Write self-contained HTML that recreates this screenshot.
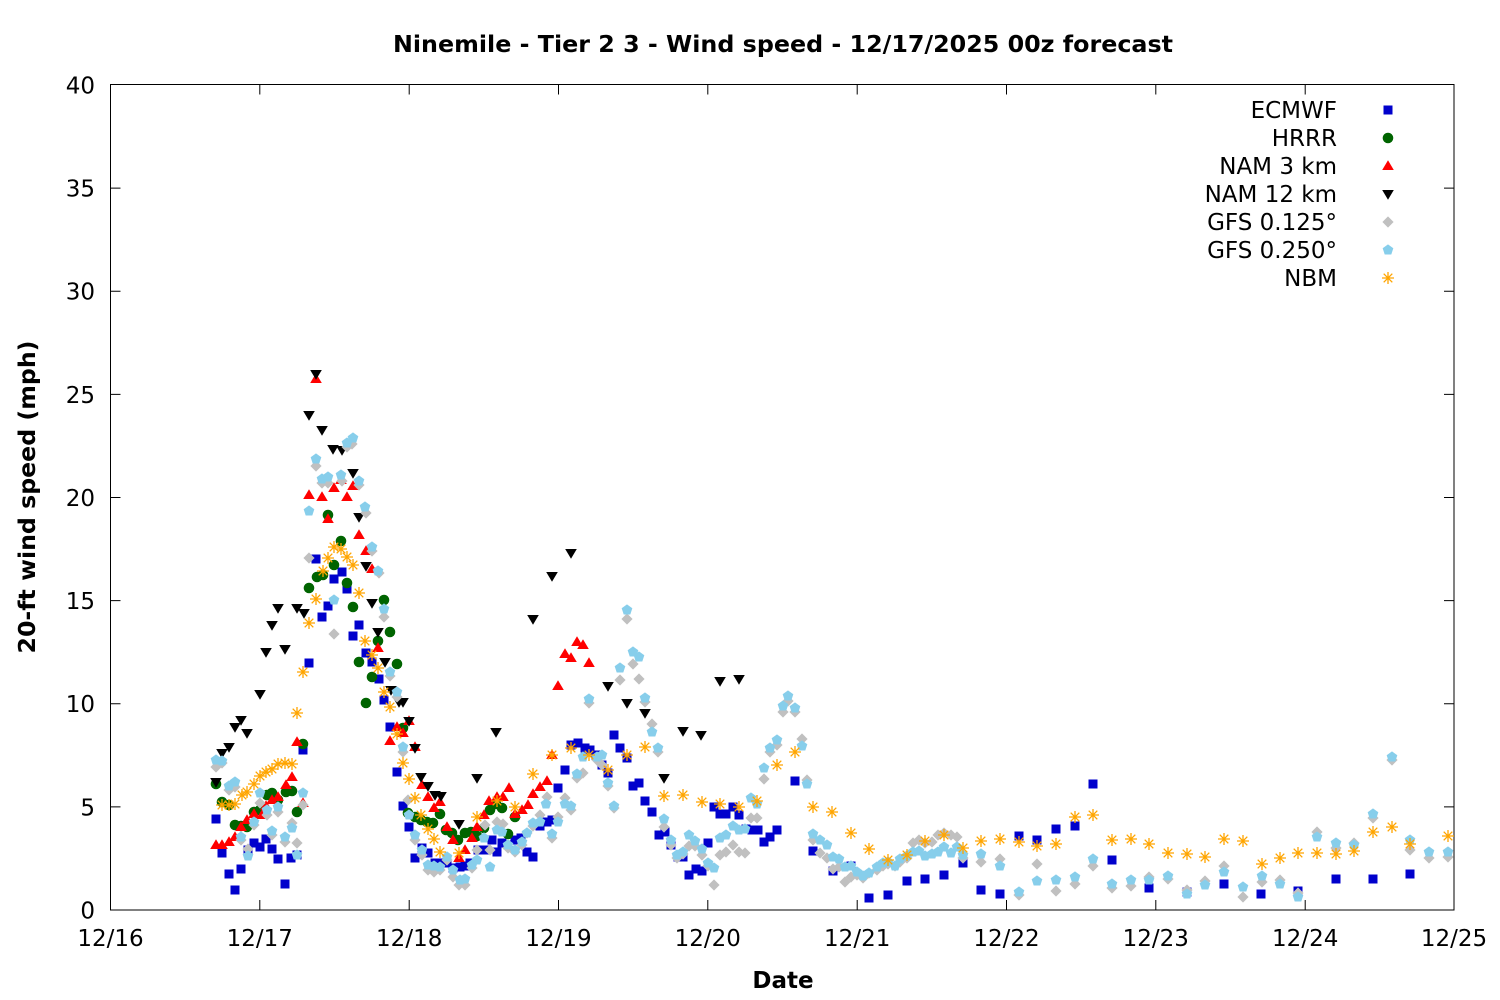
<!DOCTYPE html>
<html><head><meta charset="utf-8"><style>
html,body{margin:0;padding:0;background:#fff;}
svg{display:block;}
text{font-family:"DejaVu Sans","Liberation Sans",sans-serif;fill:#000;}
</style></head><body>
<svg width="1500" height="1000" viewBox="0 0 1500 1000" xmlns="http://www.w3.org/2000/svg" xmlns:xlink="http://www.w3.org/1999/xlink">
<defs>
<rect id="a" x="-4.5" y="-4.5" width="9" height="9" fill="#0000cc"/>
<circle id="b" r="5.3" fill="#006400"/>
<polygon id="c" points="0,-5.8 5.8,4 -5.8,4" fill="#ff0000"/>
<polygon id="d" points="-5.8,-4 5.8,-4 0,5.8" fill="#000000"/>
<polygon id="e" points="0,-5.6 5.6,0 0,5.6 -5.6,0" fill="#c0c0c0"/>
<polygon id="f" points="0,-5.6 5.33,-1.73 3.29,4.53 -3.29,4.53 -5.33,-1.73" fill="#87ceeb"/>
<g id="g" stroke="#ffa500" stroke-width="1.3" fill="none"><path d="M-6,0H6M0,-6V6M-4.3,-4.3L4.3,4.3M-4.3,4.3L4.3,-4.3"/></g>
</defs>
<rect x="0" y="0" width="1500" height="1000" fill="#fff"/>
<text x="783" y="52" text-anchor="middle" font-size="23" font-weight="bold" textLength="780" lengthAdjust="spacingAndGlyphs">Ninemile - Tier 2 3 - Wind speed - 12/17/2025 00z forecast</text>
<g stroke="#000" stroke-width="1" fill="none">
<rect x="110.5" y="84.5" width="1343.5" height="825.5"/>
<path d="M110.5,806.9h10M110.5,703.75h10M110.5,600.6h10M110.5,497.5h10M110.5,394.4h10M110.5,291.25h10M110.5,188.1h10
M1454,806.9h-10M1454,703.75h-10M1454,600.6h-10M1454,497.5h-10M1454,394.4h-10M1454,291.25h-10M1454,188.1h-10
M259.8,910v-10M409.2,910v-10M558.5,910v-10M707.8,910v-10M857.2,910v-10M1006.5,910v-10M1155.8,910v-10M1305.2,910v-10
M259.8,84.5v10M409.2,84.5v10M558.5,84.5v10M707.8,84.5v10M857.2,84.5v10M1006.5,84.5v10M1155.8,84.5v10M1305.2,84.5v10"/>
</g>
<g font-size="23" text-anchor="end">
<text x="95" y="918.5">0</text>
<text x="95" y="815.4">5</text>
<text x="95" y="712.2">10</text>
<text x="95" y="609.1">15</text>
<text x="95" y="506">20</text>
<text x="95" y="402.9">25</text>
<text x="95" y="299.7">30</text>
<text x="95" y="196.6">35</text>
<text x="95" y="93.5">40</text>
</g>
<g font-size="23" text-anchor="middle">
<text x="110.5" y="946">12/16</text>
<text x="259.8" y="946">12/17</text>
<text x="409.2" y="946">12/18</text>
<text x="558.5" y="946">12/19</text>
<text x="707.8" y="946">12/20</text>
<text x="857.2" y="946">12/21</text>
<text x="1006.5" y="946">12/22</text>
<text x="1155.8" y="946">12/23</text>
<text x="1305.2" y="946">12/24</text>
<text x="1454" y="946">12/25</text>
</g>
<text x="783" y="988" text-anchor="middle" font-size="23" font-weight="bold">Date</text>
<text transform="translate(35,497) rotate(-90)" text-anchor="middle" font-size="23" font-weight="bold" textLength="313" lengthAdjust="spacingAndGlyphs">20-ft wind speed (mph)</text>

<!-- ECMWF -->
<g>
<use href="#a" x="216" y="819"/><use href="#a" x="222" y="853"/><use href="#a" x="229" y="874"/><use href="#a" x="235" y="890"/><use href="#a" x="241" y="869"/><use href="#a" x="248" y="850"/><use href="#a" x="254" y="843"/><use href="#a" x="260" y="847"/><use href="#a" x="266" y="839"/><use href="#a" x="272" y="849"/><use href="#a" x="278" y="859"/><use href="#a" x="285" y="884"/><use href="#a" x="291" y="858"/><use href="#a" x="297" y="855"/><use href="#a" x="303" y="750"/><use href="#a" x="309" y="663"/><use href="#a" x="316" y="559"/><use href="#a" x="322" y="617"/><use href="#a" x="328" y="606"/><use href="#a" x="334" y="579"/><use href="#a" x="342" y="572"/><use href="#a" x="347" y="589"/><use href="#a" x="353" y="636"/><use href="#a" x="359" y="625"/><use href="#a" x="366" y="653"/><use href="#a" x="372" y="662"/><use href="#a" x="379" y="679"/><use href="#a" x="384" y="700"/><use href="#a" x="390" y="727"/><use href="#a" x="397" y="772"/><use href="#a" x="403" y="806"/><use href="#a" x="409" y="827"/><use href="#a" x="415" y="858"/><use href="#a" x="422" y="848"/><use href="#a" x="428" y="853"/><use href="#a" x="435" y="863"/><use href="#a" x="441" y="863"/><use href="#a" x="447" y="863"/><use href="#a" x="453" y="868"/><use href="#a" x="460" y="867"/><use href="#a" x="465" y="866"/><use href="#a" x="470" y="863"/><use href="#a" x="478" y="850"/><use href="#a" x="485" y="850"/><use href="#a" x="492" y="840"/><use href="#a" x="497" y="852"/><use href="#a" x="502" y="843"/><use href="#a" x="508" y="845"/><use href="#a" x="515" y="840"/><use href="#a" x="521" y="838"/><use href="#a" x="527" y="852"/><use href="#a" x="533" y="857"/><use href="#a" x="540" y="826"/><use href="#a" x="547" y="822"/><use href="#a" x="552" y="820"/><use href="#a" x="558" y="788"/><use href="#a" x="565" y="770"/><use href="#a" x="571" y="745"/><use href="#a" x="578" y="743"/><use href="#a" x="585" y="748"/><use href="#a" x="590" y="750"/><use href="#a" x="596" y="755"/><use href="#a" x="602" y="765"/><use href="#a" x="608" y="773"/><use href="#a" x="614" y="735"/><use href="#a" x="620" y="748"/><use href="#a" x="627" y="758"/><use href="#a" x="633" y="786"/><use href="#a" x="639" y="783"/><use href="#a" x="645" y="801"/><use href="#a" x="652" y="812"/><use href="#a" x="659" y="835"/><use href="#a" x="665" y="832"/><use href="#a" x="671" y="845"/><use href="#a" x="678" y="857"/><use href="#a" x="683" y="857"/><use href="#a" x="689" y="875"/><use href="#a" x="696" y="869"/><use href="#a" x="702" y="871"/><use href="#a" x="708" y="843"/><use href="#a" x="714" y="807"/><use href="#a" x="720" y="814"/><use href="#a" x="726" y="814"/><use href="#a" x="733" y="807"/><use href="#a" x="739" y="815"/><use href="#a" x="746" y="829"/><use href="#a" x="752" y="830"/><use href="#a" x="758" y="830"/><use href="#a" x="764" y="842"/><use href="#a" x="770" y="837"/><use href="#a" x="777" y="830"/><use href="#a" x="795" y="781"/><use href="#a" x="813" y="851"/><use href="#a" x="833" y="871"/><use href="#a" x="851" y="866"/><use href="#a" x="869" y="898"/><use href="#a" x="888" y="895"/><use href="#a" x="907" y="881"/><use href="#a" x="925" y="879"/><use href="#a" x="944" y="875"/><use href="#a" x="963" y="863"/><use href="#a" x="981" y="890"/><use href="#a" x="1000" y="894"/><use href="#a" x="1019" y="836"/><use href="#a" x="1037" y="840"/><use href="#a" x="1056" y="829"/><use href="#a" x="1075" y="826"/><use href="#a" x="1093" y="784"/><use href="#a" x="1112" y="860"/><use href="#a" x="1149" y="888"/><use href="#a" x="1187" y="892"/><use href="#a" x="1224" y="884"/><use href="#a" x="1261" y="894"/><use href="#a" x="1298" y="891"/><use href="#a" x="1336" y="879"/><use href="#a" x="1373" y="879"/><use href="#a" x="1410" y="874"/>
</g>
<!-- HRRR -->
<g>
<use href="#b" x="216" y="784"/><use href="#b" x="222" y="802"/><use href="#b" x="229" y="805"/><use href="#b" x="235" y="825"/><use href="#b" x="241" y="826"/><use href="#b" x="247" y="827"/><use href="#b" x="254" y="812"/><use href="#b" x="260" y="810"/><use href="#b" x="267" y="795"/><use href="#b" x="272" y="793"/><use href="#b" x="278" y="800"/><use href="#b" x="286" y="792"/><use href="#b" x="292" y="791"/><use href="#b" x="297" y="812"/><use href="#b" x="303" y="744"/><use href="#b" x="309" y="588"/><use href="#b" x="317" y="577"/><use href="#b" x="323" y="575"/><use href="#b" x="328" y="515"/><use href="#b" x="334" y="565"/><use href="#b" x="341" y="541"/><use href="#b" x="347" y="583"/><use href="#b" x="353" y="607"/><use href="#b" x="359" y="662"/><use href="#b" x="366" y="703"/><use href="#b" x="372" y="677"/><use href="#b" x="378" y="641"/><use href="#b" x="384" y="600"/><use href="#b" x="390" y="632"/><use href="#b" x="397" y="664"/><use href="#b" x="403" y="728"/><use href="#b" x="408" y="813"/><use href="#b" x="415" y="817"/><use href="#b" x="421" y="820"/><use href="#b" x="427" y="822"/><use href="#b" x="433" y="823"/><use href="#b" x="440" y="814"/><use href="#b" x="446" y="830"/><use href="#b" x="452" y="833"/><use href="#b" x="458" y="840"/><use href="#b" x="465" y="833"/><use href="#b" x="471" y="832"/><use href="#b" x="477" y="836"/><use href="#b" x="484" y="828"/><use href="#b" x="490" y="810"/><use href="#b" x="496" y="804"/><use href="#b" x="502" y="808"/><use href="#b" x="508" y="834"/><use href="#b" x="515" y="817"/>
</g>
<!-- NAM 3 km -->
<g>
<use href="#c" x="216" y="845"/><use href="#c" x="222" y="845"/><use href="#c" x="229" y="842"/><use href="#c" x="235" y="837"/><use href="#c" x="241" y="827"/><use href="#c" x="247" y="820"/><use href="#c" x="254" y="814"/><use href="#c" x="262" y="815"/><use href="#c" x="266" y="806"/><use href="#c" x="272" y="800"/><use href="#c" x="278" y="797"/><use href="#c" x="286" y="785"/><use href="#c" x="292" y="777"/><use href="#c" x="297" y="742"/><use href="#c" x="303" y="803"/><use href="#c" x="309" y="495"/><use href="#c" x="316" y="379"/><use href="#c" x="322" y="497"/><use href="#c" x="328" y="519"/><use href="#c" x="334" y="488"/><use href="#c" x="341" y="480"/><use href="#c" x="347" y="497"/><use href="#c" x="353" y="486"/><use href="#c" x="359" y="535"/><use href="#c" x="366" y="551"/><use href="#c" x="372" y="569"/><use href="#c" x="378" y="648"/><use href="#c" x="390" y="741"/><use href="#c" x="397" y="727"/><use href="#c" x="403" y="733"/><use href="#c" x="409" y="721"/><use href="#c" x="415" y="747"/><use href="#c" x="422" y="785"/><use href="#c" x="428" y="797"/><use href="#c" x="434" y="808"/><use href="#c" x="440" y="802"/><use href="#c" x="447" y="827"/><use href="#c" x="453" y="840"/><use href="#c" x="459" y="858"/><use href="#c" x="465" y="850"/><use href="#c" x="472" y="838"/><use href="#c" x="477" y="827"/><use href="#c" x="484" y="815"/><use href="#c" x="489" y="801"/><use href="#c" x="497" y="797"/><use href="#c" x="503" y="797"/><use href="#c" x="509" y="788"/><use href="#c" x="515" y="814"/><use href="#c" x="522" y="810"/><use href="#c" x="528" y="805"/><use href="#c" x="533" y="794"/><use href="#c" x="540" y="787"/><use href="#c" x="547" y="781"/><use href="#c" x="552" y="755"/><use href="#c" x="558" y="686"/><use href="#c" x="565" y="654"/><use href="#c" x="571" y="658"/><use href="#c" x="577" y="642"/><use href="#c" x="583" y="645"/><use href="#c" x="589" y="663"/>
</g>
<!-- NAM 12 km -->
<g>
<use href="#d" x="216" y="782"/><use href="#d" x="222" y="753"/><use href="#d" x="229" y="747"/><use href="#d" x="235" y="727"/><use href="#d" x="241" y="720"/><use href="#d" x="247" y="733"/><use href="#d" x="260" y="694"/><use href="#d" x="266" y="652"/><use href="#d" x="272" y="625"/><use href="#d" x="278" y="608"/><use href="#d" x="285" y="649"/><use href="#d" x="297" y="608"/><use href="#d" x="304" y="613"/><use href="#d" x="309" y="415"/><use href="#d" x="316" y="374"/><use href="#d" x="322" y="430"/><use href="#d" x="333" y="449"/><use href="#d" x="342" y="450"/><use href="#d" x="353" y="473"/><use href="#d" x="359" y="517"/><use href="#d" x="366" y="566"/><use href="#d" x="372" y="603"/><use href="#d" x="378" y="632"/><use href="#d" x="385" y="662"/><use href="#d" x="391" y="690"/><use href="#d" x="399" y="702"/><use href="#d" x="403" y="702"/><use href="#d" x="409" y="721"/><use href="#d" x="415" y="748"/><use href="#d" x="421" y="777"/><use href="#d" x="428" y="786"/><use href="#d" x="435" y="795"/><use href="#d" x="441" y="796"/><use href="#d" x="459" y="824"/><use href="#d" x="477" y="778"/><use href="#d" x="496" y="732"/><use href="#d" x="533" y="619"/><use href="#d" x="552" y="576"/><use href="#d" x="571" y="553"/><use href="#d" x="608" y="686"/><use href="#d" x="627" y="703"/><use href="#d" x="645" y="713"/><use href="#d" x="664" y="778"/><use href="#d" x="683" y="731"/><use href="#d" x="701" y="735"/><use href="#d" x="720" y="681"/><use href="#d" x="739" y="679"/>
</g>
<!-- GFS 0.125 -->
<g>
<use href="#e" x="216" y="767"/><use href="#e" x="222" y="763"/><use href="#e" x="229" y="790"/><use href="#e" x="235" y="787"/><use href="#e" x="241" y="840"/><use href="#e" x="248" y="849"/><use href="#e" x="254" y="825"/><use href="#e" x="260" y="803"/><use href="#e" x="267" y="815"/><use href="#e" x="272" y="835"/><use href="#e" x="278" y="812"/><use href="#e" x="285" y="842"/><use href="#e" x="292" y="823"/><use href="#e" x="297" y="843"/><use href="#e" x="303" y="805"/><use href="#e" x="309" y="558"/><use href="#e" x="316" y="466"/><use href="#e" x="322" y="483"/><use href="#e" x="328" y="483"/><use href="#e" x="334" y="634"/><use href="#e" x="342" y="481"/><use href="#e" x="347" y="447"/><use href="#e" x="352" y="444"/><use href="#e" x="359" y="485"/><use href="#e" x="366" y="513"/><use href="#e" x="372" y="551"/><use href="#e" x="379" y="573"/><use href="#e" x="384" y="617"/><use href="#e" x="390" y="676"/><use href="#e" x="397" y="697"/><use href="#e" x="403" y="752"/><use href="#e" x="408" y="800"/><use href="#e" x="415" y="840"/><use href="#e" x="422" y="855"/><use href="#e" x="428" y="870"/><use href="#e" x="434" y="872"/><use href="#e" x="440" y="870"/><use href="#e" x="447" y="860"/><use href="#e" x="453" y="877"/><use href="#e" x="459" y="885"/><use href="#e" x="465" y="885"/><use href="#e" x="472" y="868"/><use href="#e" x="477" y="850"/><use href="#e" x="485" y="825"/><use href="#e" x="490" y="850"/><use href="#e" x="497" y="822"/><use href="#e" x="503" y="824"/><use href="#e" x="508" y="848"/><use href="#e" x="515" y="852"/><use href="#e" x="522" y="845"/><use href="#e" x="527" y="833"/><use href="#e" x="533" y="826"/><use href="#e" x="540" y="815"/><use href="#e" x="547" y="797"/><use href="#e" x="552" y="838"/><use href="#e" x="558" y="817"/><use href="#e" x="565" y="798"/><use href="#e" x="571" y="810"/><use href="#e" x="577" y="778"/><use href="#e" x="583" y="773"/><use href="#e" x="589" y="703"/><use href="#e" x="597" y="760"/><use href="#e" x="602" y="765"/><use href="#e" x="608" y="786"/><use href="#e" x="614" y="808"/><use href="#e" x="620" y="680"/><use href="#e" x="627" y="619"/><use href="#e" x="633" y="664"/><use href="#e" x="639" y="679"/><use href="#e" x="645" y="702"/><use href="#e" x="652" y="724"/><use href="#e" x="658" y="752"/><use href="#e" x="664" y="827"/><use href="#e" x="671" y="845"/><use href="#e" x="677" y="858"/><use href="#e" x="683" y="854"/><use href="#e" x="689" y="846"/><use href="#e" x="695" y="846"/><use href="#e" x="702" y="855"/><use href="#e" x="708" y="866"/><use href="#e" x="714" y="885"/><use href="#e" x="720" y="855"/><use href="#e" x="726" y="852"/><use href="#e" x="733" y="845"/><use href="#e" x="739" y="852"/><use href="#e" x="745" y="853"/><use href="#e" x="751" y="818"/><use href="#e" x="757" y="818"/><use href="#e" x="764" y="779"/><use href="#e" x="770" y="752"/><use href="#e" x="777" y="745"/><use href="#e" x="783" y="712"/><use href="#e" x="788" y="701"/><use href="#e" x="795" y="712"/><use href="#e" x="802" y="739"/><use href="#e" x="807" y="780"/><use href="#e" x="813" y="840"/><use href="#e" x="820" y="853"/><use href="#e" x="827" y="858"/><use href="#e" x="833" y="869"/><use href="#e" x="839" y="867"/><use href="#e" x="845" y="882"/><use href="#e" x="851" y="877"/><use href="#e" x="857" y="875"/><use href="#e" x="863" y="878"/><use href="#e" x="869" y="873"/><use href="#e" x="877" y="870"/><use href="#e" x="883" y="866"/><use href="#e" x="888" y="864"/><use href="#e" x="895" y="866"/><use href="#e" x="900" y="862"/><use href="#e" x="907" y="858"/><use href="#e" x="913" y="843"/><use href="#e" x="919" y="840"/><use href="#e" x="925" y="843"/><use href="#e" x="932" y="842"/><use href="#e" x="938" y="835"/><use href="#e" x="944" y="833"/><use href="#e" x="951" y="835"/><use href="#e" x="957" y="837"/><use href="#e" x="963" y="858"/><use href="#e" x="981" y="862"/><use href="#e" x="1000" y="859"/><use href="#e" x="1019" y="895"/><use href="#e" x="1037" y="864"/><use href="#e" x="1056" y="891"/><use href="#e" x="1075" y="884"/><use href="#e" x="1093" y="866"/><use href="#e" x="1112" y="888"/><use href="#e" x="1131" y="886"/><use href="#e" x="1149" y="877"/><use href="#e" x="1168" y="879"/><use href="#e" x="1187" y="890"/><use href="#e" x="1205" y="881"/><use href="#e" x="1224" y="866"/><use href="#e" x="1243" y="897"/><use href="#e" x="1262" y="882"/><use href="#e" x="1280" y="880"/><use href="#e" x="1298" y="893"/><use href="#e" x="1317" y="832"/><use href="#e" x="1336" y="848"/><use href="#e" x="1354" y="843"/><use href="#e" x="1373" y="818"/><use href="#e" x="1392" y="760"/><use href="#e" x="1410" y="850"/><use href="#e" x="1429" y="858"/><use href="#e" x="1448" y="857"/>
</g>
<!-- GFS 0.250 -->
<g>
<use href="#f" x="216" y="760"/><use href="#f" x="222" y="761"/><use href="#f" x="229" y="786"/><use href="#f" x="235" y="782"/><use href="#f" x="241" y="837"/><use href="#f" x="248" y="856"/><use href="#f" x="254" y="822"/><use href="#f" x="260" y="793"/><use href="#f" x="267" y="810"/><use href="#f" x="272" y="831"/><use href="#f" x="278" y="807"/><use href="#f" x="285" y="837"/><use href="#f" x="292" y="828"/><use href="#f" x="297" y="855"/><use href="#f" x="303" y="793"/><use href="#f" x="309" y="511"/><use href="#f" x="316" y="459"/><use href="#f" x="322" y="479"/><use href="#f" x="328" y="477"/><use href="#f" x="334" y="600"/><use href="#f" x="341" y="475"/><use href="#f" x="347" y="443"/><use href="#f" x="353" y="438"/><use href="#f" x="359" y="481"/><use href="#f" x="365" y="507"/><use href="#f" x="372" y="547"/><use href="#f" x="378" y="571"/><use href="#f" x="384" y="609"/><use href="#f" x="390" y="672"/><use href="#f" x="397" y="692"/><use href="#f" x="403" y="747"/><use href="#f" x="409" y="815"/><use href="#f" x="415" y="835"/><use href="#f" x="422" y="850"/><use href="#f" x="428" y="865"/><use href="#f" x="434" y="866"/><use href="#f" x="440" y="867"/><use href="#f" x="447" y="857"/><use href="#f" x="453" y="870"/><use href="#f" x="460" y="880"/><use href="#f" x="465" y="879"/><use href="#f" x="472" y="865"/><use href="#f" x="477" y="860"/><use href="#f" x="484" y="838"/><use href="#f" x="490" y="867"/><use href="#f" x="497" y="830"/><use href="#f" x="502" y="832"/><use href="#f" x="508" y="845"/><use href="#f" x="515" y="850"/><use href="#f" x="522" y="842"/><use href="#f" x="527" y="833"/><use href="#f" x="533" y="823"/><use href="#f" x="540" y="822"/><use href="#f" x="546" y="804"/><use href="#f" x="552" y="834"/><use href="#f" x="558" y="822"/><use href="#f" x="565" y="804"/><use href="#f" x="571" y="806"/><use href="#f" x="577" y="774"/><use href="#f" x="583" y="757"/><use href="#f" x="589" y="699"/><use href="#f" x="597" y="757"/><use href="#f" x="602" y="755"/><use href="#f" x="608" y="783"/><use href="#f" x="614" y="806"/><use href="#f" x="620" y="668"/><use href="#f" x="627" y="610"/><use href="#f" x="633" y="652"/><use href="#f" x="639" y="657"/><use href="#f" x="645" y="698"/><use href="#f" x="652" y="732"/><use href="#f" x="658" y="748"/><use href="#f" x="664" y="819"/><use href="#f" x="671" y="840"/><use href="#f" x="677" y="855"/><use href="#f" x="683" y="852"/><use href="#f" x="689" y="835"/><use href="#f" x="695" y="841"/><use href="#f" x="702" y="849"/><use href="#f" x="708" y="863"/><use href="#f" x="714" y="868"/><use href="#f" x="720" y="838"/><use href="#f" x="726" y="835"/><use href="#f" x="733" y="826"/><use href="#f" x="739" y="830"/><use href="#f" x="745" y="829"/><use href="#f" x="751" y="798"/><use href="#f" x="757" y="804"/><use href="#f" x="764" y="768"/><use href="#f" x="770" y="748"/><use href="#f" x="777" y="740"/><use href="#f" x="783" y="706"/><use href="#f" x="788" y="696"/><use href="#f" x="795" y="708"/><use href="#f" x="802" y="746"/><use href="#f" x="807" y="784"/><use href="#f" x="813" y="834"/><use href="#f" x="820" y="840"/><use href="#f" x="827" y="845"/><use href="#f" x="833" y="857"/><use href="#f" x="839" y="859"/><use href="#f" x="845" y="867"/><use href="#f" x="851" y="866"/><use href="#f" x="857" y="872"/><use href="#f" x="863" y="876"/><use href="#f" x="869" y="873"/><use href="#f" x="877" y="867"/><use href="#f" x="883" y="863"/><use href="#f" x="888" y="862"/><use href="#f" x="895" y="866"/><use href="#f" x="900" y="859"/><use href="#f" x="907" y="856"/><use href="#f" x="913" y="852"/><use href="#f" x="919" y="851"/><use href="#f" x="925" y="856"/><use href="#f" x="932" y="854"/><use href="#f" x="938" y="852"/><use href="#f" x="944" y="847"/><use href="#f" x="951" y="853"/><use href="#f" x="957" y="847"/><use href="#f" x="963" y="855"/><use href="#f" x="981" y="854"/><use href="#f" x="1000" y="866"/><use href="#f" x="1019" y="892"/><use href="#f" x="1037" y="881"/><use href="#f" x="1056" y="880"/><use href="#f" x="1075" y="877"/><use href="#f" x="1093" y="859"/><use href="#f" x="1112" y="884"/><use href="#f" x="1131" y="880"/><use href="#f" x="1149" y="880"/><use href="#f" x="1168" y="876"/><use href="#f" x="1187" y="894"/><use href="#f" x="1205" y="885"/><use href="#f" x="1224" y="872"/><use href="#f" x="1243" y="887"/><use href="#f" x="1262" y="876"/><use href="#f" x="1280" y="884"/><use href="#f" x="1298" y="897"/><use href="#f" x="1317" y="837"/><use href="#f" x="1336" y="843"/><use href="#f" x="1354" y="845"/><use href="#f" x="1373" y="814"/><use href="#f" x="1392" y="757"/><use href="#f" x="1410" y="840"/><use href="#f" x="1429" y="852"/><use href="#f" x="1448" y="852"/>
</g>
<!-- NBM -->
<g>
<use href="#g" x="222" y="805"/><use href="#g" x="229" y="805"/><use href="#g" x="235" y="804"/><use href="#g" x="242" y="795"/><use href="#g" x="247" y="792"/><use href="#g" x="254" y="784"/><use href="#g" x="260" y="776"/><use href="#g" x="266" y="772"/><use href="#g" x="272" y="769"/><use href="#g" x="278" y="764"/><use href="#g" x="285" y="763"/><use href="#g" x="292" y="764"/><use href="#g" x="297" y="713"/><use href="#g" x="303" y="672"/><use href="#g" x="309" y="623"/><use href="#g" x="316" y="599"/><use href="#g" x="323" y="571"/><use href="#g" x="328" y="558"/><use href="#g" x="334" y="547"/><use href="#g" x="341" y="549"/><use href="#g" x="347" y="557"/><use href="#g" x="353" y="565"/><use href="#g" x="359" y="593"/><use href="#g" x="365" y="641"/><use href="#g" x="372" y="655"/><use href="#g" x="378" y="668"/><use href="#g" x="384" y="692"/><use href="#g" x="390" y="707"/><use href="#g" x="397" y="734"/><use href="#g" x="403" y="763"/><use href="#g" x="409" y="779"/><use href="#g" x="415" y="798"/><use href="#g" x="421" y="815"/><use href="#g" x="428" y="829"/><use href="#g" x="434" y="839"/><use href="#g" x="440" y="852"/><use href="#g" x="459" y="853"/><use href="#g" x="477" y="817"/><use href="#g" x="497" y="801"/><use href="#g" x="515" y="807"/><use href="#g" x="533" y="774"/><use href="#g" x="552" y="755"/><use href="#g" x="571" y="748"/><use href="#g" x="589" y="755"/><use href="#g" x="608" y="770"/><use href="#g" x="627" y="755"/><use href="#g" x="645" y="747"/><use href="#g" x="664" y="796"/><use href="#g" x="683" y="795"/><use href="#g" x="702" y="802"/><use href="#g" x="720" y="804"/><use href="#g" x="739" y="807"/><use href="#g" x="757" y="801"/><use href="#g" x="777" y="765"/><use href="#g" x="795" y="752"/><use href="#g" x="813" y="807"/><use href="#g" x="832" y="812"/><use href="#g" x="851" y="833"/><use href="#g" x="869" y="849"/><use href="#g" x="888" y="860"/><use href="#g" x="907" y="855"/><use href="#g" x="925" y="841"/><use href="#g" x="944" y="835"/><use href="#g" x="963" y="848"/><use href="#g" x="981" y="841"/><use href="#g" x="1000" y="839"/><use href="#g" x="1019" y="842"/><use href="#g" x="1037" y="846"/><use href="#g" x="1056" y="844"/><use href="#g" x="1075" y="817"/><use href="#g" x="1093" y="815"/><use href="#g" x="1112" y="840"/><use href="#g" x="1131" y="839"/><use href="#g" x="1149" y="844"/><use href="#g" x="1168" y="853"/><use href="#g" x="1187" y="854"/><use href="#g" x="1205" y="857"/><use href="#g" x="1224" y="839"/><use href="#g" x="1243" y="841"/><use href="#g" x="1262" y="864"/><use href="#g" x="1280" y="858"/><use href="#g" x="1298" y="853"/><use href="#g" x="1317" y="853"/><use href="#g" x="1336" y="854"/><use href="#g" x="1354" y="851"/><use href="#g" x="1373" y="832"/><use href="#g" x="1392" y="827"/><use href="#g" x="1410" y="844"/><use href="#g" x="1448" y="836"/>
</g>

<!-- Legend -->
<g font-size="23" text-anchor="end">
<text x="1337" y="118">ECMWF</text>
<text x="1337" y="146">HRRR</text>
<text x="1337" y="174">NAM 3 km</text>
<text x="1337" y="202">NAM 12 km</text>
<text x="1337" y="230">GFS 0.125°</text>
<text x="1337" y="258">GFS 0.250°</text>
<text x="1337" y="286">NBM</text>
</g>
<use href="#a" x="1388" y="110"/>
<use href="#b" x="1388" y="138"/>
<use href="#c" x="1388" y="166"/>
<use href="#d" x="1388" y="194"/>
<use href="#e" x="1388" y="222"/>
<use href="#f" x="1388" y="250"/>
<use href="#g" x="1388" y="278"/>
</svg>
</body></html>
